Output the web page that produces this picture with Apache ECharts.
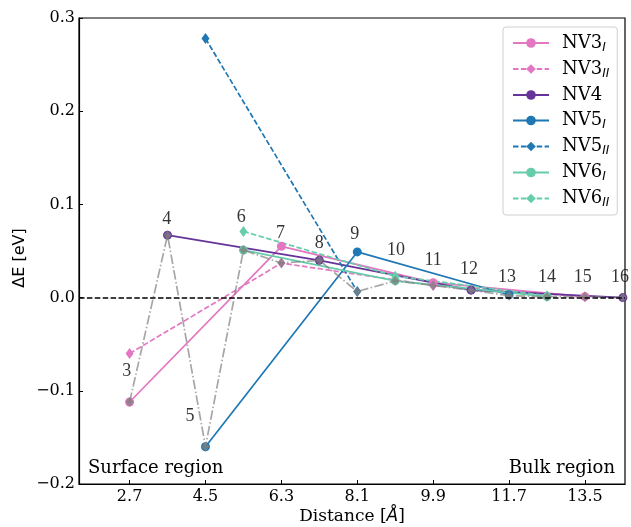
<!DOCTYPE html>
<html>
<head>
<meta charset="utf-8">
<script src="https://cdn.jsdelivr.net/npm/echarts@6/dist/echarts.min.js"></script>
<style>html,body{margin:0;padding:0;background:#fff;}#c{width:631px;height:527px;}</style>
</head>
<body>
<div id="c"></div>
<script>
// ---- data ----
const xTicks = [2.7, 4.5, 6.3, 8.1, 9.9, 11.7, 13.5];
const yTicks = [-0.2, -0.1, 0.0, 0.1, 0.2, 0.3];

const nv3X = [2.7, 6.3, 9.9, 13.5];
const nv3IY = [-0.112, 0.055, 0.016, 0.001];
const nv3IIY = [-0.060, 0.037, 0.013, 0.001];

const nv4X = [3.6, 7.2, 10.8, 14.4];
const nv4Y = [0.067, 0.040, 0.008, 0.000];

const nv5X = [4.5, 8.1, 11.7];
const nv5IY = [-0.160, 0.049, 0.003];
const nv5IIX = [4.5, 8.1];
const nv5IIY = [0.278, 0.0065];

const nv6X = [5.4, 9.0, 12.6];
const nv6IY = [0.051, 0.018, 0.001];
const nv6IIY = [0.071, 0.023, 0.002];

const layerX = [2.7, 3.6, 4.5, 5.4, 6.3, 7.2, 8.1, 9.0, 9.9, 10.8, 11.7, 12.6, 13.5, 14.4];
const minY   = [-0.112, 0.067, -0.160, 0.051, 0.037, 0.040, 0.0065, 0.018, 0.013, 0.008, 0.002, 0.001, 0.001, 0.000];

const layerNames = ['3','4','5','6','7','8','9','10','11','12','13','14','15','16'];
const layerLabelX = [2.63, 3.58, 4.13, 5.35, 6.28, 7.2, 8.04, 9.02, 9.9, 10.75, 11.65, 12.6, 13.45, 14.33];
const layerLabelY = [-0.079, 0.084, -0.127, 0.086, 0.069, 0.058, 0.068, 0.051, 0.040, 0.030, 0.022, 0.022, 0.022, 0.022];

// ---- build ----
const pair = (xs, ys) => xs.map((x, i) => [x, ys[i]]);
const SERIF = '"DejaVu Serif", serif';
const TIMES = '"Liberation Serif", "Times New Roman", serif';
const COL = { nv3: '#e377c2', nv4: '#663399', nv5: '#1f77b4', nv6: '#66cdaa' };
const DASH = [5.5, 2.4];

function lineSeries(name, xs, ys, color, dashed) {
  return {
    name: name, type: 'line', data: pair(xs, ys),
    symbol: dashed ? 'diamond' : 'circle',
    symbolSize: dashed ? [8, 11] : 9,
    showSymbol: true,
    itemStyle: { color: color },
    lineStyle: { color: color, width: 1.7, type: dashed ? DASH : 'solid' },
    emphasis: { disabled: true },
    animation: false, z: 3
  };
}

const series = [
  lineSeries('NV3_I', nv3X, nv3IY, COL.nv3, false),
  lineSeries('NV3_II', nv3X, nv3IIY, COL.nv3, true),
  lineSeries('NV4', nv4X, nv4Y, COL.nv4, false),
  lineSeries('NV5_I', nv5X, nv5IY, COL.nv5, false),
  lineSeries('NV5_II', nv5IIX, nv5IIY, COL.nv5, true),
  lineSeries('NV6_I', nv6X, nv6IY, COL.nv6, false),
  lineSeries('NV6_II', nv6X, nv6IIY, COL.nv6, true),
  {
    name: 'min', type: 'line', data: pair(layerX, minY),
    symbol: 'diamond', symbolSize: [8, 10],
    itemStyle: { color: 'rgba(128,128,128,0.75)' },
    lineStyle: { color: 'rgba(128,128,128,0.7)', width: 1.7, type: [9.6, 2.4, 1.5, 2.4] },
    emphasis: { disabled: true }, animation: false, z: 4
  },
  {
    name: 'zero', type: 'line', data: [], z: 2, animation: false,
    markLine: {
      silent: true, symbol: 'none', animation: false,
      label: { show: false },
      lineStyle: { color: '#000', width: 1.6, type: DASH },
      data: [{ yAxis: 0 }]
    }
  },
  {
    name: 'labels', type: 'scatter', z: 5, animation: false,
    data: layerNames.map((n, i) => ({ name: n, value: [layerLabelX[i], layerLabelY[i]] })),
    symbolSize: 0,
    label: {
      show: true, position: 'inside', formatter: p => p.name,
      color: '#000', fontFamily: TIMES, fontSize: 18
    },
    emphasis: { disabled: true }
  }
];

const legendNames = ['NV3_I', 'NV3_II', 'NV4', 'NV5_I', 'NV5_II', 'NV6_I', 'NV6_II'];

const chart = echarts.init(document.getElementById('c'), null, { renderer: 'canvas' });
chart.setOption({
  backgroundColor: '#fff',
  animation: false,
  grid: { left: 79, top: 18, right: 6, bottom: 43, show: true, borderColor: '#000', borderWidth: 1.2, backgroundColor: 'transparent' },
  xAxis: {
    type: 'value', min: 1.5, max: 14.45,
    splitLine: { show: false },
    axisLine: { show: true, onZero: false, lineStyle: { color: '#000', width: 1.2 } },
    axisTick: { show: true, inside: true, length: 4, customValues: xTicks, lineStyle: { color: '#000' } },
    axisLabel: { customValues: xTicks, color: '#000', fontFamily: SERIF, fontSize: 16, margin: 5,
      formatter: v => v.toFixed(1) }
  },
  yAxis: {
    type: 'value', min: -0.2, max: 0.3, interval: 0.1,
    splitLine: { show: false },
    axisLine: { show: true, lineStyle: { color: '#000', width: 1.2 } },
    axisTick: { show: true, inside: true, length: 4, lineStyle: { color: '#000' } },
    axisLabel: { color: '#000', fontFamily: SERIF, fontSize: 16, margin: 4,
      formatter: v => (v < -1e-9 ? '\u2212' : '') + Math.abs(v).toFixed(1) }
  },
  legend: {
    data: legendNames, orient: 'vertical', left: 503, top: 27,
    padding: [6, 8, 6, 9], itemGap: 5.5, itemWidth: 36, itemHeight: 12,
    backgroundColor: 'rgba(255,255,255,0.8)', borderColor: '#d0d0d0', borderWidth: 1, borderRadius: 3,
    selectedMode: false,
    formatter: n => { const p = n.split('_'); return p.length > 1 ? p[0] + '{s|' + p[1] + '}' : p[0]; },
    textStyle: {
      fontFamily: SERIF, fontSize: 18, color: '#000', lineHeight: 20, padding: [0, 0, 0, 8],
      rich: { s: { fontFamily: '"DejaVu Sans", sans-serif', fontStyle: 'italic', fontSize: 12, padding: [9, 0, 0, 0], color: '#000' } }
    }
  },
  graphic: [
    { type: 'text', left: 88, top: 459, style: { text: 'Surface region', font: '18px "DejaVu Serif", serif', fill: '#000' } },
    { type: 'text', right: 16, top: 459, style: { text: 'Bulk region', font: '18px "DejaVu Serif", serif', fill: '#000' } },
    { type: 'text', x: 20, y: 258, rotation: Math.PI / 2, style: { text: '\u0394E [eV]', font: '16px "DejaVu Sans", sans-serif', fill: '#000', align: 'center', verticalAlign: 'middle' } },
    { type: 'text', x: 352, y: 517, style: { text: 'Distance [{i|\u00C5}]', fill: '#000', align: 'center', verticalAlign: 'middle', font: '17px "DejaVu Serif", serif',
      rich: { i: { fontFamily: '"DejaVu Sans", sans-serif', fontStyle: 'italic', fontSize: 17 } } } }
  ],
  series: series
});
</script>
</body>
</html>
